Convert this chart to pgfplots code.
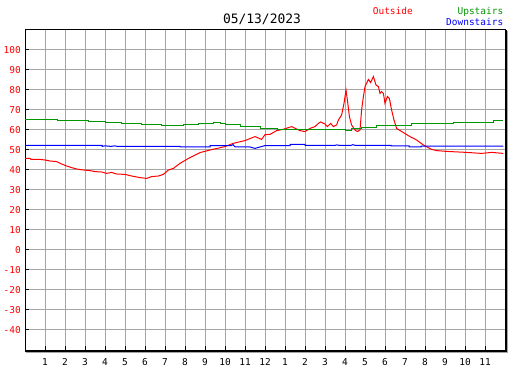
\documentclass[border=0pt]{standalone}
\usepackage{pgfplots}
\pgfplotsset{compat=1.18}
\usepackage{fontspec}
\setmainfont{DejaVu Sans Mono}
\definecolor{gridgray}{RGB}{165,165,165}
\definecolor{outred}{RGB}{255,0,0}
\definecolor{upgreen}{RGB}{0,150,0}
\definecolor{downblue}{RGB}{0,0,255}
\newcommand{\smallf}{\fontsize{9.5}{10}\selectfont}
\begin{document}
\begin{tikzpicture}
\useasboundingbox (-25bp,-20bp) rectangle (502bp,350bp);
\begin{axis}[
  at={(0,0)}, anchor=south west,
  scale only axis, width=480bp, height=320bp,
  xmin=0, xmax=24, ymin=-50, ymax=110,
  clip=false,
  axis line style={black, line width=1bp},
  xtick={1,2,...,23},
  xticklabels={1,2,3,4,5,6,7,8,9,10,11,12,1,2,3,4,5,6,7,8,9,10,11},
  ytick={-40,-30,-20,-10,0,10,20,30,40,50,60,70,80,90,100},
  yticklabels={-40,-30,-20,-10,0,10,20,30,40,50,60,70,80,90,100},
  xtick pos=bottom, ytick pos=left,
  tick align=inside,
  major tick length=4bp,
  tick style={black, line width=1bp},
  grid=major,
  major grid style={gridgray, line width=1bp},
  xticklabel style={font=\smallf, text=black, inner sep=0pt, yshift=-8bp},
  yticklabel style={font=\smallf, text=outred, inner sep=0pt, xshift=-4bp},
]
\addplot[outred, line width=1bp] coordinates {
(0,45.8)(0.25,45.8)(0.3,45.3)(0.75,45.3)(1.0,45.0)(1.25,44.5)(1.58,44.2)(1.83,43.0)(2.08,42.0)(2.33,41.2)(2.58,40.5)(2.92,40.0)(3.25,39.7)(3.5,39.2)(3.83,39.0)(4.08,38.3)(4.33,38.8)(4.58,38.0)(5.0,37.8)(5.33,37.0)(5.75,36.2)(6.08,35.8)(6.33,36.7)(6.67,37.0)(6.92,37.8)(7.17,40.0)(7.42,40.8)(7.75,43.3)(8.17,45.8)(8.75,48.7)(9.25,50.0)(10.0,51.7)(10.4,53.3)(11.0,54.7)(11.5,56.7)(11.83,55.3)(12.0,57.7)(12.25,57.8)(12.58,59.7)(12.9,60.3)(13.33,61.7)(13.58,60.5)(13.75,59.7)(14.0,59.2)(14.25,60.8)(14.5,61.7)(14.67,63.3)(14.78,64.0)(15.0,63.0)(15.12,61.7)(15.28,63.3)(15.42,61.7)(15.58,62.5)(15.67,65.0)(15.83,67.5)(15.95,73.3)(16.05,80.0)(16.12,75.0)(16.22,66.7)(16.33,62.5)(16.5,60.0)(16.62,59.2)(16.75,60.0)(16.83,70.0)(16.92,76.7)(17.0,81.7)(17.08,83.3)(17.17,85.3)(17.28,83.7)(17.42,86.7)(17.55,82.5)(17.67,81.7)(17.75,78.3)(17.83,79.2)(17.92,78.3)(18.0,73.3)(18.12,76.7)(18.22,75.8)(18.33,70.0)(18.45,65.0)(18.58,60.8)(18.92,58.7)(19.25,56.7)(19.58,55.0)(19.92,52.5)(20.33,50.3)(20.58,49.7)(21.08,49.3)(22.08,48.8)(22.83,48.3)(23.33,48.8)(23.92,48.3)
};
\addplot[upgreen, line width=1bp] coordinates {
(0,65.3)(1.6,65.3)(1.6,64.8)(3.15,64.8)(3.15,64.3)(4.0,64.3)(4.0,63.8)(4.83,63.8)(4.83,63.3)(5.83,63.3)(5.83,62.8)(6.83,62.8)(6.83,62.3)(7.9,62.3)(7.9,62.5)(8.65,62.5)(8.65,63.3)(9.4,63.3)(9.4,63.8)(9.75,63.8)(9.75,63.3)(10.0,63.3)(10.0,62.7)(10.75,62.7)(10.75,61.7)(11.75,61.7)(11.75,60.7)(12.6,60.7)(12.6,60.3)(14.75,60.3)(14.75,60.0)(16.0,60.0)(16.0,59.7)(16.33,59.7)(16.33,60.8)(16.83,60.8)(16.83,61.3)(17.58,61.3)(17.58,62.0)(18.58,62.0)(18.58,62.4)(19.33,62.4)(19.33,63.0)(20.33,63.0)(20.33,63.3)(21.4,63.3)(21.4,63.6)(21.75,63.6)(21.75,63.8)(23.4,63.8)(23.4,64.5)(23.92,64.5)
};
\addplot[downblue, line width=1bp] coordinates {
(0,52.3)(3.85,52.3)(3.85,51.8)(4.0,52.1)(4.3,51.8)(4.5,52.1)(4.6,51.8)(7.75,51.8)(7.75,51.5)(9.25,51.5)(9.25,52.2)(10.3,52.2)(10.4,52.7)(10.5,51.5)(11.25,51.5)(11.5,50.8)(11.75,51.5)(12.0,52.2)(13.25,52.2)(13.25,52.8)(14.0,52.8)(14.0,52.3)(15.5,52.3)(15.6,52.6)(15.7,52.3)(16.3,52.3)(16.4,52.7)(16.5,52.3)(18.3,52.3)(18.3,52.0)(19.2,52.0)(19.2,51.6)(19.8,51.6)(19.8,51.9)(23.92,51.9)
};
\node[anchor=base, font=\fontsize{13}{14}\selectfont, inner sep=0pt] at (axis cs:11.85,113) {05/13/2023};
\node[anchor=base west, font=\smallf, text=outred, inner sep=0pt] at (axis cs:17.385,117.5) {Outside};
\node[anchor=base east, font=\smallf, text=upgreen, inner sep=0pt] at (axis cs:23.92,117.5) {Upstairs};
\node[anchor=base east, font=\smallf, text=downblue, inner sep=0pt] at (axis cs:23.92,112) {Downstairs};
\end{axis}
\draw[black, line width=1bp] ([yshift=-1bp]current axis.south west) -- ([xshift=1bp,yshift=-1bp]current axis.south east) -- ([xshift=1bp]current axis.north east);
\draw[gridgray, line width=1bp] ([xshift=1bp,yshift=-2bp]current axis.south west) -- ([xshift=2bp,yshift=-2bp]current axis.south east) -- ([xshift=2bp,yshift=-1bp]current axis.north east);
\end{tikzpicture}
\end{document}
